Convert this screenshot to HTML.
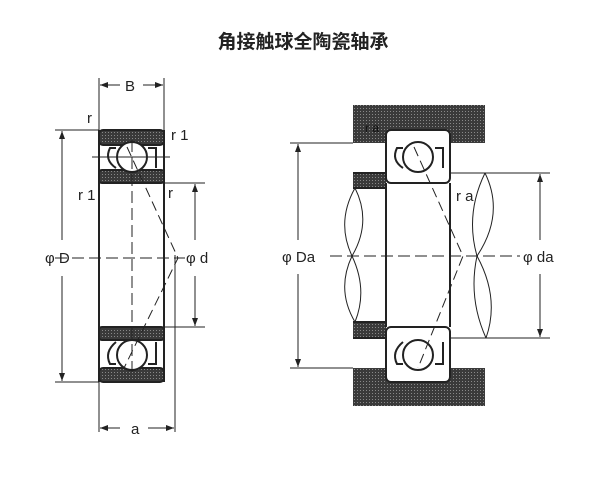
<!DOCTYPE html>
<html><head><meta charset="utf-8"><style>
html,body{margin:0;padding:0;background:#fff;width:600px;height:480px;overflow:hidden}
svg text{font-family:"Liberation Sans","DejaVu Sans",sans-serif;fill:#222}
</style></head><body>
<svg width="600" height="480" viewBox="0 0 600 480" xmlns="http://www.w3.org/2000/svg">
<defs>
<pattern id="h" width="3" height="3" patternUnits="userSpaceOnUse">
<rect width="3" height="3" fill="#3a3a3a"/><rect width="1" height="1" fill="#888"/></pattern>
<marker id="a" markerWidth="8" markerHeight="6" refX="8" refY="3" orient="auto" markerUnits="userSpaceOnUse"><path d="M0,0L8,3L0,6z" fill="#222"/></marker>
</defs>
<text x="303" y="48" text-anchor="middle" font-size="19" font-weight="bold" style="font-family:'Liberation Sans','Noto Sans CJK SC',sans-serif">角接触球全陶瓷轴承</text>
<g stroke="#222" fill="none" stroke-width="1">
<rect x="99" y="130" width="65" height="15" rx="4" fill="url(#h)" stroke-width="2"/>
<rect x="99" y="170" width="65" height="13" rx="3" fill="url(#h)" stroke-width="2"/>
<rect x="99" y="327" width="65" height="13" rx="3" fill="url(#h)" stroke-width="2"/>
<rect x="99" y="368" width="65" height="14" rx="4" fill="url(#h)" stroke-width="2"/>
<line x1="99" y1="130" x2="99" y2="382" stroke-width="2"/>
<line x1="164" y1="130" x2="164" y2="382" stroke-width="2"/>
<path d="M116,168 Q104,160 110,148 L116,148" stroke-width="2"/>
<path d="M148,148 L156,148 L156,168" stroke-width="2"/>
<path d="M116,342 Q104,352 110,364 L116,364" stroke-width="2"/>
<path d="M148,364 L156,364 L156,342" stroke-width="2"/>
<circle cx="132" cy="157" r="15" fill="#fff" stroke-width="2"/>
<circle cx="132" cy="355" r="15" fill="#fff" stroke-width="2"/>
<line x1="92" y1="157" x2="170" y2="157"/>
<line x1="132" y1="140" x2="132" y2="372" stroke-dasharray="12,5"/>
<line x1="55" y1="258" x2="185" y2="258" stroke-dasharray="12,5"/>
<path d="M127,147 L178,258 L124,368" stroke-dasharray="10,5"/>
<line x1="99" y1="78" x2="99" y2="130"/><line x1="164" y1="78" x2="164" y2="130"/>
<line x1="120" y1="85" x2="100" y2="85" marker-end="url(#a)"/><line x1="143" y1="85" x2="163" y2="85" marker-end="url(#a)"/>
<line x1="55" y1="130" x2="99" y2="130"/><line x1="55" y1="382" x2="99" y2="382"/>
<line x1="62" y1="240" x2="62" y2="131" marker-end="url(#a)"/><line x1="62" y1="276" x2="62" y2="381" marker-end="url(#a)"/>
<line x1="164" y1="183" x2="205" y2="183"/><line x1="164" y1="327" x2="205" y2="327"/>
<line x1="195" y1="240" x2="195" y2="184" marker-end="url(#a)"/><line x1="195" y1="276" x2="195" y2="326" marker-end="url(#a)"/>
<line x1="175" y1="255" x2="175" y2="432"/><line x1="99" y1="382" x2="99" y2="432"/>
<line x1="120" y1="428" x2="100" y2="428" marker-end="url(#a)"/><line x1="148" y1="428" x2="174" y2="428" marker-end="url(#a)"/>
<rect x="353" y="105" width="132" height="38" fill="url(#h)" stroke="none"/>
<rect x="353" y="368" width="132" height="38" fill="url(#h)" stroke="none"/>
<rect x="353" y="173" width="33" height="15" fill="url(#h)" stroke="none"/>
<rect x="353" y="322" width="33" height="16" fill="url(#h)" stroke="none"/>
<line x1="353" y1="173" x2="386" y2="173" stroke-width="2"/><line x1="353" y1="188" x2="386" y2="188" stroke-width="2"/>
<line x1="353" y1="322" x2="386" y2="322" stroke-width="2"/><line x1="353" y1="338" x2="386" y2="338" stroke-width="2"/>
<line x1="450" y1="173" x2="550" y2="173"/><line x1="450" y1="338" x2="550" y2="338"/>
<rect x="386" y="130" width="64" height="53" rx="5" fill="#fff" stroke-width="2"/>
<rect x="386" y="327" width="64" height="55" rx="5" fill="#fff" stroke-width="2"/>
<line x1="386" y1="183" x2="386" y2="327" stroke-width="2"/>
<line x1="450" y1="183" x2="450" y2="327" stroke-width="2"/>
<path d="M403,168 Q391,160 397,148 L403,148" stroke-width="2"/>
<path d="M435,148 L443,148 L443,168" stroke-width="2"/>
<path d="M403,342 Q391,352 397,364 L403,364" stroke-width="2"/>
<path d="M435,364 L443,364 L443,342" stroke-width="2"/>
<circle cx="418" cy="157" r="15" fill="#fff" stroke-width="2"/>
<circle cx="418" cy="355" r="15" fill="#fff" stroke-width="2"/>
<path d="M414,147 L463,256 L418,368" stroke-dasharray="10,5"/>
<line x1="330" y1="256" x2="520" y2="256" stroke-dasharray="12,5"/>
<path d="M355,188 Q336,222 352,256 Q368,290 355,322"/>
<path d="M355,188 Q372,222 352,256 Q336,290 355,322"/>
<path d="M485,173 Q505,214 477,256 Q468,298 486,338"/>
<path d="M485,173 Q465,214 477,256 Q500,298 486,338"/>
<line x1="290" y1="143" x2="353" y2="143"/><line x1="290" y1="368" x2="353" y2="368"/>
<line x1="298" y1="240" x2="298" y2="144" marker-end="url(#a)"/><line x1="298" y1="274" x2="298" y2="367" marker-end="url(#a)"/>
<line x1="540" y1="240" x2="540" y2="174" marker-end="url(#a)"/><line x1="540" y1="274" x2="540" y2="337" marker-end="url(#a)"/>
</g>
<g font-size="15">
<text x="125" y="91">B</text>
<text x="87" y="123">r</text>
<text x="171" y="140">r 1</text>
<text x="78" y="200">r 1</text>
<text x="168" y="198">r</text>
<text x="45" y="263">φ D</text>
<text x="186" y="263">φ d</text>
<text x="131" y="434">a</text>
<text x="365" y="132" font-size="12" style="fill:#111">r a</text>
<text x="456" y="201">r a</text>
<text x="282" y="262">φ Da</text>
<text x="523" y="262">φ da</text>
</g>
</svg>
</body></html>
